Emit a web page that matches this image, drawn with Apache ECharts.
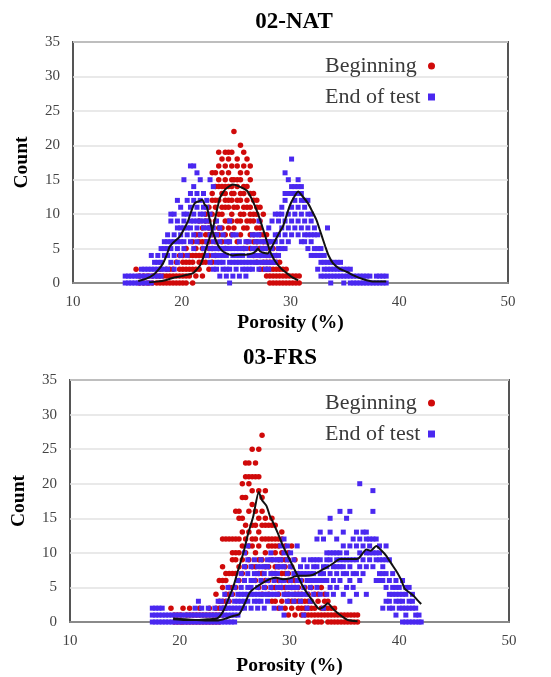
<!DOCTYPE html>
<html>
<head>
<meta charset="utf-8">
<script src="https://cdn.jsdelivr.net/npm/echarts@6/dist/echarts.min.js"></script>
<style>
html,body{margin:0;padding:0;background:#fff;}
#chart{width:551px;height:677px;}
</style>
</head>
<body>
<div id="chart"></div>
<script>
// ---- Data: each row = [porosity, count, count, ...] ----
const TITLES = ['02-NAT', '03-FRS'];
const SERIES_NAMES = ['Beginning', 'End of test'];
const X_TICKS = [10, 20, 30, 40, 50];
const Y_TICKS = [0, 5, 10, 15, 20, 25, 30, 35];

const NAT_BEGIN = [
  [15.8,2],[16.1,0,1],[16.5,0,1],[16.9,0,1],[17.3,0,1],[17.7,0,1],[18.0,0,1,2],[18.3,0,1],
  [18.6,0,1,2],[18.9,0,1,2],[19.2,0,1,2],[19.5,0,1,3],[19.8,0,1,2,4],[20.1,0,1,2,3,4],
  [20.4,0,1,2,3,5],[20.7,1,2,3,4],[21.0,0,2,3,4,6],[21.3,1,2,4,5,7],[21.6,2,3,4,6,7,9],
  [21.9,1,3,4,5,6,8],[22.2,3,4,6,7,9,10],[22.5,2,4,5,6,7,8,9,11],[22.8,3,5,7,8,10,12,13,16],
  [23.1,4,6,7,9,11,12,14,16],[23.4,5,7,8,10,12,14,15,17,19],[23.7,6,8,10,11,13,14,16,18],
  [24.0,5,7,9,11,12,13,14,15,17,19],[24.3,6,8,9,11,12,14,16,18,19],[24.6,7,9,10,12,13,14,15,17,19],
  [24.8,8,11,13,15,22],[25.1,6,9,11,12,14,15,17,18],[25.4,7,9,10,12,13,15,16,20],
  [25.7,5,8,10,11,13,14,17,19],[26.0,6,8,9,11,12,14,16,18],[26.3,5,7,9,10,11,13,15,17],
  [26.6,4,6,7,9,10,12,13],[26.9,3,5,6,8,10,11,12],[27.2,2,4,5,7,8,9,11],[27.5,2,3,5,6,7,10],
  [27.8,1,2,3,4,5,6,7],[28.1,0,1,2,3,4,6],[28.4,0,1,2,3,5],[28.7,0,1,2,3,4],[29.0,0,1,2,3],
  [29.3,0,1,2],[29.6,0,1,2],[29.9,0,1],[30.2,0,1],[30.5,0,1],[30.8,0,1]
];
const NAT_END = [
  [14.8,0,1],[15.1,0,1],[15.4,0,1],[15.7,0,1],[16.0,0,1],[16.3,0,1,2],[16.6,0,1,2],[16.9,0,1,2],
  [17.2,0,1,2,4],[17.5,1,2,3],[17.8,1,2,3,4],[18.1,1,2,3,5],[18.4,2,4,5,6],[18.7,2,4,5,6,7],
  [19.0,3,5,6,9,10],[19.3,2,4,6,7,10],[19.6,3,5,6,8,9,12],[19.9,4,6,7,8,11],[20.2,5,6,8,9,10,15],
  [20.5,4,7,8,10,12],[20.8,6,8,9,11,13,17],[21.1,5,7,9,10,12,14,17],[21.4,6,8,9,11,13,16],
  [21.7,7,9,10,12,15],[22.0,5,8,9,10,11,13],[22.3,4,6,8,9,11,12],[22.6,3,5,7,8,10,15],
  [22.9,2,4,5,6,8,14],[23.2,2,3,4,5,7,9],[23.5,1,3,4,5,6,8],[23.8,2,3,4,5,7],[24.1,1,2,4,5,6],
  [24.4,0,2,3,5,6,9],[24.7,1,3,4,5,7],[25.0,2,3,4,5,7],[25.3,1,3,4,5,6],[25.6,2,3,4,5],
  [25.9,1,2,3,5,6],[26.2,2,3,4,6],[26.5,2,3,4,5,7],[26.8,3,4,5,6,7],[27.1,2,3,4,6,7,9],
  [27.4,3,4,5,6],[27.7,2,3,4,5,6],[28.0,2,3,4,6,8],[28.3,3,4,5,6,9],[28.6,3,4,6,7,10],
  [28.9,4,5,7,9,10],[29.2,5,6,8,10,11],[29.5,5,7,9,12,13,16],[29.8,6,8,10,13,15],
  [30.1,7,9,11,13,14,18],[30.4,8,10,12,13,14],[30.7,7,9,11,13,14,15],[31.0,6,8,10,12,13,14],
  [31.3,6,7,9,11,12],[31.6,5,7,8,10,12],[31.9,4,6,7,9,10],[32.2,4,5,7,8],[32.5,2,4,5,7],
  [32.8,1,3,4,5],[33.1,1,2,3,4],[33.4,1,2,3,8],[33.7,0,1,2,3],[34.0,1,2,3],[34.3,1,2,3],
  [34.6,1,2,3],[34.9,0,1,2],[35.2,1,2],[35.5,0,1,2],[35.8,0,1],[36.1,0,1],[36.4,0,1],
  [36.7,0,1],[37.0,0,1],[37.3,0,1],[37.6,0],[37.9,0,1],[38.2,0,1],[38.5,0,1],[38.8,0,1]
];
const NAT_BEGIN_CURVE = [
  [17.0,0.1],[17.7,0.2],[18.5,0.4],[19.3,0.8],[20.0,1.0],[20.5,1.2],[21.0,1.4],[21.4,2.0],
  [21.7,2.6],[22.0,3.8],[22.4,5.8],[22.9,8.2],[23.5,12.3],[24.0,13.6],[24.7,14.3],[25.3,14.0],
  [26.0,13.4],[26.5,12.0],[27.0,10.1],[27.4,8.2],[27.8,6.2],[28.2,4.3],[28.7,2.9],[29.2,2.0],
  [29.6,1.5],[30.1,0.9],[30.7,0.4]
];
const NAT_END_CURVE = [
  [16.0,0.3],[16.7,0.6],[17.4,1.2],[17.9,2.0],[18.3,2.9],[18.6,4.0],[18.9,5.3],[19.3,6.0],
  [19.8,6.7],[20.2,7.8],[20.6,9.1],[20.9,10.5],[21.2,11.6],[21.6,11.9],[21.9,12.1],[22.1,11.4],
  [22.3,11.1],[22.6,9.0],[22.9,7.2],[23.3,5.6],[23.7,4.7],[24.1,4.3],[24.7,4.0],[25.3,4.1],
  [25.9,4.1],[26.5,4.3],[26.8,4.6],[27.0,5.0],[27.2,4.6],[27.5,4.4],[27.9,4.3],[28.2,5.0],
  [28.6,6.2],[29.0,7.4],[29.3,8.2],[29.6,9.6],[29.9,11.1],[30.3,12.4],[30.7,13.3],
  [31.1,12.6],[31.6,11.6],[32.0,10.4],[32.4,9.1],[32.8,7.2],[33.2,5.3],[33.5,4.0],[33.9,2.9],
  [34.5,2.1],[35.2,1.6],[35.8,1.1],[36.4,0.7],[37.0,0.4],[37.6,0.2],[38.8,0.2]
];

const FRS_BEGIN = [
  [19.2,2],[19.5,0,1],[19.8,0,1],[20.1,0,1],[20.3,0,2],[20.6,0,1],[20.9,0,1,2],[21.2,0,1],
  [21.5,0,1],[21.8,0,1,2],[22.1,0,1],[22.4,0,1],[22.7,0,1,2],[23.0,0,1],[23.3,0,1,2,4],
  [23.6,0,1,2,3,6],[23.9,1,2,3,5,6,8,12],[24.2,2,3,4,6,7,12],[24.5,3,4,5,7,12],
  [24.8,4,5,7,9,10,12],[25.1,5,7,9,10,12,16],[25.4,6,8,10,12,15,16],[25.7,7,9,11,13,15,18,20],
  [26.0,8,10,12,14,18,21,23],[26.3,9,11,13,16,20,21,23],[26.6,8,11,12,14,17,19,21,25],
  [26.9,6,8,10,12,14,16,21,23],[27.2,5,7,9,11,13,15,19,21,25],[27.5,4,7,9,12,14,16,18,27],
  [27.8,5,6,8,10,12,14,15,19],[28.1,4,6,8,11,12,14],[28.4,3,5,7,9,11,12,14,15],
  [28.7,3,5,7,8,10,11,12,14],[29.0,2,4,6,8,9,11,12],[29.3,3,5,6,7,9,10,12,13],
  [29.6,2,4,5,7,8,9,11],[29.9,1,3,4,6,7,9,10],[30.2,2,3,5,6,8,11],[30.5,1,3,4,5,6,9],
  [30.8,2,3,4,5,7],[31.1,1,2,3,4,6],[31.4,1,2,3,5],[31.7,0,1,2,3,4],[32.0,1,2,3,5],
  [32.3,0,1,2,4],[32.6,0,1,3,4],[32.9,0,1,2,5],[33.2,1,2,3,4],[33.5,0,1,2,3],[33.8,0,1,2],
  [34.1,0,1,2],[34.4,0,1],[34.7,0,1],[35.0,0,1],[35.3,0,1],[35.6,0,1],[35.9,0,1],[36.2,0,1]
];
const FRS_END = [
  [17.5,0,1,2],[17.8,0,1,2],[18.1,0,1,2],[18.4,0,1,2],[18.7,0,1],[19.0,0,1],[19.3,0,1],
  [19.6,0,1],[19.9,0,1],[20.2,0,1],[20.5,0,1],[20.8,0,1],[21.1,0,1],[21.4,0,1,2],[21.7,0,1,3],
  [22.0,0,1,2],[22.3,0,1],[22.6,0,1,2],[22.9,0,1],[23.2,0,1,2],[23.5,0,1,3],[23.8,0,1,2,3],
  [24.1,0,1,2,4],[24.4,0,1,2,3,5],[24.7,0,1,2,4],[25.0,0,1,2,3,5],[25.3,1,2,3,4,6],
  [25.6,2,3,4,5,7],[25.9,2,3,4,6,8,10],[26.2,3,4,5,7,9,11],[26.5,2,4,5,6,8],[26.8,3,4,6,7,9],
  [27.1,2,3,4,5,7,8],[27.4,3,4,6,8,9],[27.7,2,4,5,7,8],[28.0,3,4,6,8,9],[28.3,4,5,7,9,10],
  [28.6,2,4,6,7,9],[28.9,4,5,7,8,9],[29.2,2,5,6,8,9,11],[29.5,1,4,6,8,10,12],
  [29.8,3,4,5,7,9,11],[30.1,4,5,6,8,10],[30.4,3,4,5,7,9],[30.7,4,5,6,7,11],[31.0,3,4,6,7,8],
  [31.3,1,4,5,7,9],[31.6,2,4,6,7,8],[31.9,3,5,6,7,9],[32.2,4,6,7,8,9],[32.5,5,6,8,9,12],
  [32.8,4,6,7,9,13],[33.1,2,6,7,8,12],[33.4,4,6,8,9,10],[33.7,5,7,9,10,13,15],[34.0,4,6,8,10],
  [34.3,5,7,8,9,10,12],[34.6,6,8,9,10,16],[34.9,4,7,8,9,11,13],[35.2,5,7,9,10,15],
  [35.5,3,6,8,9,11,16],[35.8,5,7,9,12],[36.1,4,7,9,11,13],[36.4,6,8,10,12,20],[36.7,7,9,11,13],
  [37.0,4,8,10,12,13],[37.3,9,10,11,12],[37.6,8,10,12,16,19],[37.9,6,9,10,12],
  [38.2,6,7,9,10,11],[38.5,2,6,7,8,9],[38.8,3,5,7,9,11],[39.1,2,3,4,6,9],[39.4,2,4,5,7],
  [39.7,1,3,4,5,6],[40.0,2,3,4,5],[40.3,0,2,3,4,6],[40.6,0,1,2,4,5],[40.9,0,2,3,5],
  [41.2,0,2,3,4],[41.5,0,1,2],[41.8,0,1],[42.0,0]
];
const FRS_BEGIN_CURVE = [
  [19.4,0.5],[20.5,0.4],[21.5,0.3],[22.5,0.4],[23.4,0.5],[23.9,1.4],[24.4,3.2],[24.9,5.2],
  [25.3,7.4],[25.8,10.0],[26.2,12.6],[26.7,15.3],[27.2,18.8],[27.5,17.6],[27.9,16.8],
  [28.2,15.4],[28.5,14.4],[29.0,12.6],[29.4,11.0],[29.9,9.4],[30.3,8.1],[30.8,6.5],[31.2,5.2],
  [31.6,4.2],[32.0,3.3],[32.4,2.4],[32.7,1.9],[33.1,2.2],[33.5,2.7],[33.9,2.0],[34.3,1.4],
  [34.8,0.8],[35.3,0.3],[36.2,0.1]
];
const FRS_END_CURVE = [
  [19.4,0.4],[20.5,0.3],[21.5,0.3],[22.5,0.2],[23.4,0.2],[24.2,0.5],[24.9,0.9],[25.4,1.1],
  [25.9,2.6],[26.4,4.3],[27.0,5.1],[27.6,5.7],[28.2,6.2],[28.8,6.4],[29.4,6.2],[30.0,6.3],
  [30.5,6.6],[30.9,6.7],[31.5,6.7],[32.1,6.8],[32.7,7.3],[33.4,7.9],[34.0,8.5],[34.6,9.1],
  [35.2,9.1],[35.8,9.1],[36.3,9.2],[36.7,10.0],[37.0,10.5],[37.4,10.3],[37.9,11.0],
  [38.4,10.3],[38.8,9.6],[39.3,8.4],[39.8,7.2],[40.2,6.0],[40.5,4.8],[40.9,4.3],[41.3,3.8],
  [41.7,3.1],[42.0,2.6]
];

// ---- Build ----
function expand(rows) {
  const out = [];
  rows.forEach(r => { for (let i = 1; i < r.length; i++) out.push([r[0], r[i]]); });
  return out;
}

const FONT = '"Liberation Serif", "Times New Roman", serif';
const RED = '#d00a0a';
const BLUE = '#4a28f0';

const panels = [
  { grid: { left: 73, top: 42, width: 435, height: 241 }, title: { x: 289, y: 6 },
    legendTop: 50, nameGap: 30,
    begin: NAT_BEGIN, end: NAT_END, bc: NAT_BEGIN_CURVE, ec: NAT_END_CURVE },
  { grid: { left: 70, top: 380, width: 439, height: 243 }, title: { x: 275, y: 342 },
    legendTop: 387, nameGap: 34,
    begin: FRS_BEGIN, end: FRS_END, bc: FRS_BEGIN_CURVE, ec: FRS_END_CURVE }
];

const option = {
  animation: false,
  backgroundColor: '#fff',
  title: panels.map((p, i) => ({
    text: TITLES[i], left: p.title.x, top: p.title.y, textAlign: 'center',
    textStyle: { fontFamily: FONT, fontWeight: 'bold', fontSize: 23, color: '#000' }
  })),
  legend: panels.map((p, i) => ({
    data: SERIES_NAMES, orient: 'vertical', left: 320, top: p.legendTop,
    align: 'right', itemGap: 9, itemWidth: 7, itemHeight: 7,
    formatter: name => '{t|' + name + '}',
    textStyle: {
      fontFamily: FONT, fontSize: 22, color: '#3a3a3a',
      rich: { t: { fontFamily: FONT, fontSize: 22, color: '#3a3a3a', width: 98, align: 'left' } }
    }
  })),
  grid: panels.map(p => Object.assign({ show: true, borderColor: '#555', borderWidth: 2, backgroundColor: '#fff' }, p.grid)),
  xAxis: panels.map((p, i) => ({
    gridIndex: i, type: 'value', min: X_TICKS[0], max: X_TICKS[X_TICKS.length - 1], interval: 10,
    name: 'Porosity (%)', nameLocation: 'middle', nameGap: p.nameGap,
    nameTextStyle: { fontFamily: FONT, fontWeight: 'bold', fontSize: 19.5, color: '#000' },
    axisLine: { show: true, lineStyle: { color: '#8a8a8a', width: 2 } },
    axisTick: { show: false }, splitLine: { show: false },
    axisLabel: { fontFamily: FONT, fontSize: 15, color: '#444', margin: 12 }
  })),
  yAxis: panels.map((p, i) => ({
    gridIndex: i, type: 'value', min: Y_TICKS[0], max: Y_TICKS[Y_TICKS.length - 1], interval: 5,
    name: 'Count', nameLocation: 'middle', nameGap: 41,
    nameTextStyle: { fontFamily: FONT, fontWeight: 'bold', fontSize: 19.5, color: '#000' },
    axisLine: { show: false }, axisTick: { show: false },
    splitLine: { show: true, lineStyle: { color: '#e2e2e2', width: 1.5 } },
    axisLabel: { fontFamily: FONT, fontSize: 15, color: '#444', margin: 13 }
  })),
  series: []
};

panels.forEach((p, i) => {
  option.series.push({
    name: SERIES_NAMES[0], type: 'scatter', xAxisIndex: i, yAxisIndex: i,
    data: expand(p.begin), symbol: 'circle', symbolSize: 5.5,
    itemStyle: { color: RED, opacity: 1 }, z: 2
  });
  option.series.push({
    name: SERIES_NAMES[1], type: 'scatter', xAxisIndex: i, yAxisIndex: i,
    data: expand(p.end), symbol: 'rect', symbolSize: 5,
    itemStyle: { color: BLUE, opacity: 1 }, z: 3
  });
  [p.bc, p.ec].forEach(c => {
    option.series.push({
      type: 'line', xAxisIndex: i, yAxisIndex: i, data: c, showSymbol: false,
      smooth: 0.2, lineStyle: { color: '#111', width: 2 }, z: 4, silent: true
    });
  });
});

const chart = echarts.init(document.getElementById('chart'), null, { renderer: 'canvas' });
chart.setOption(option);
</script>
</body>
</html>
